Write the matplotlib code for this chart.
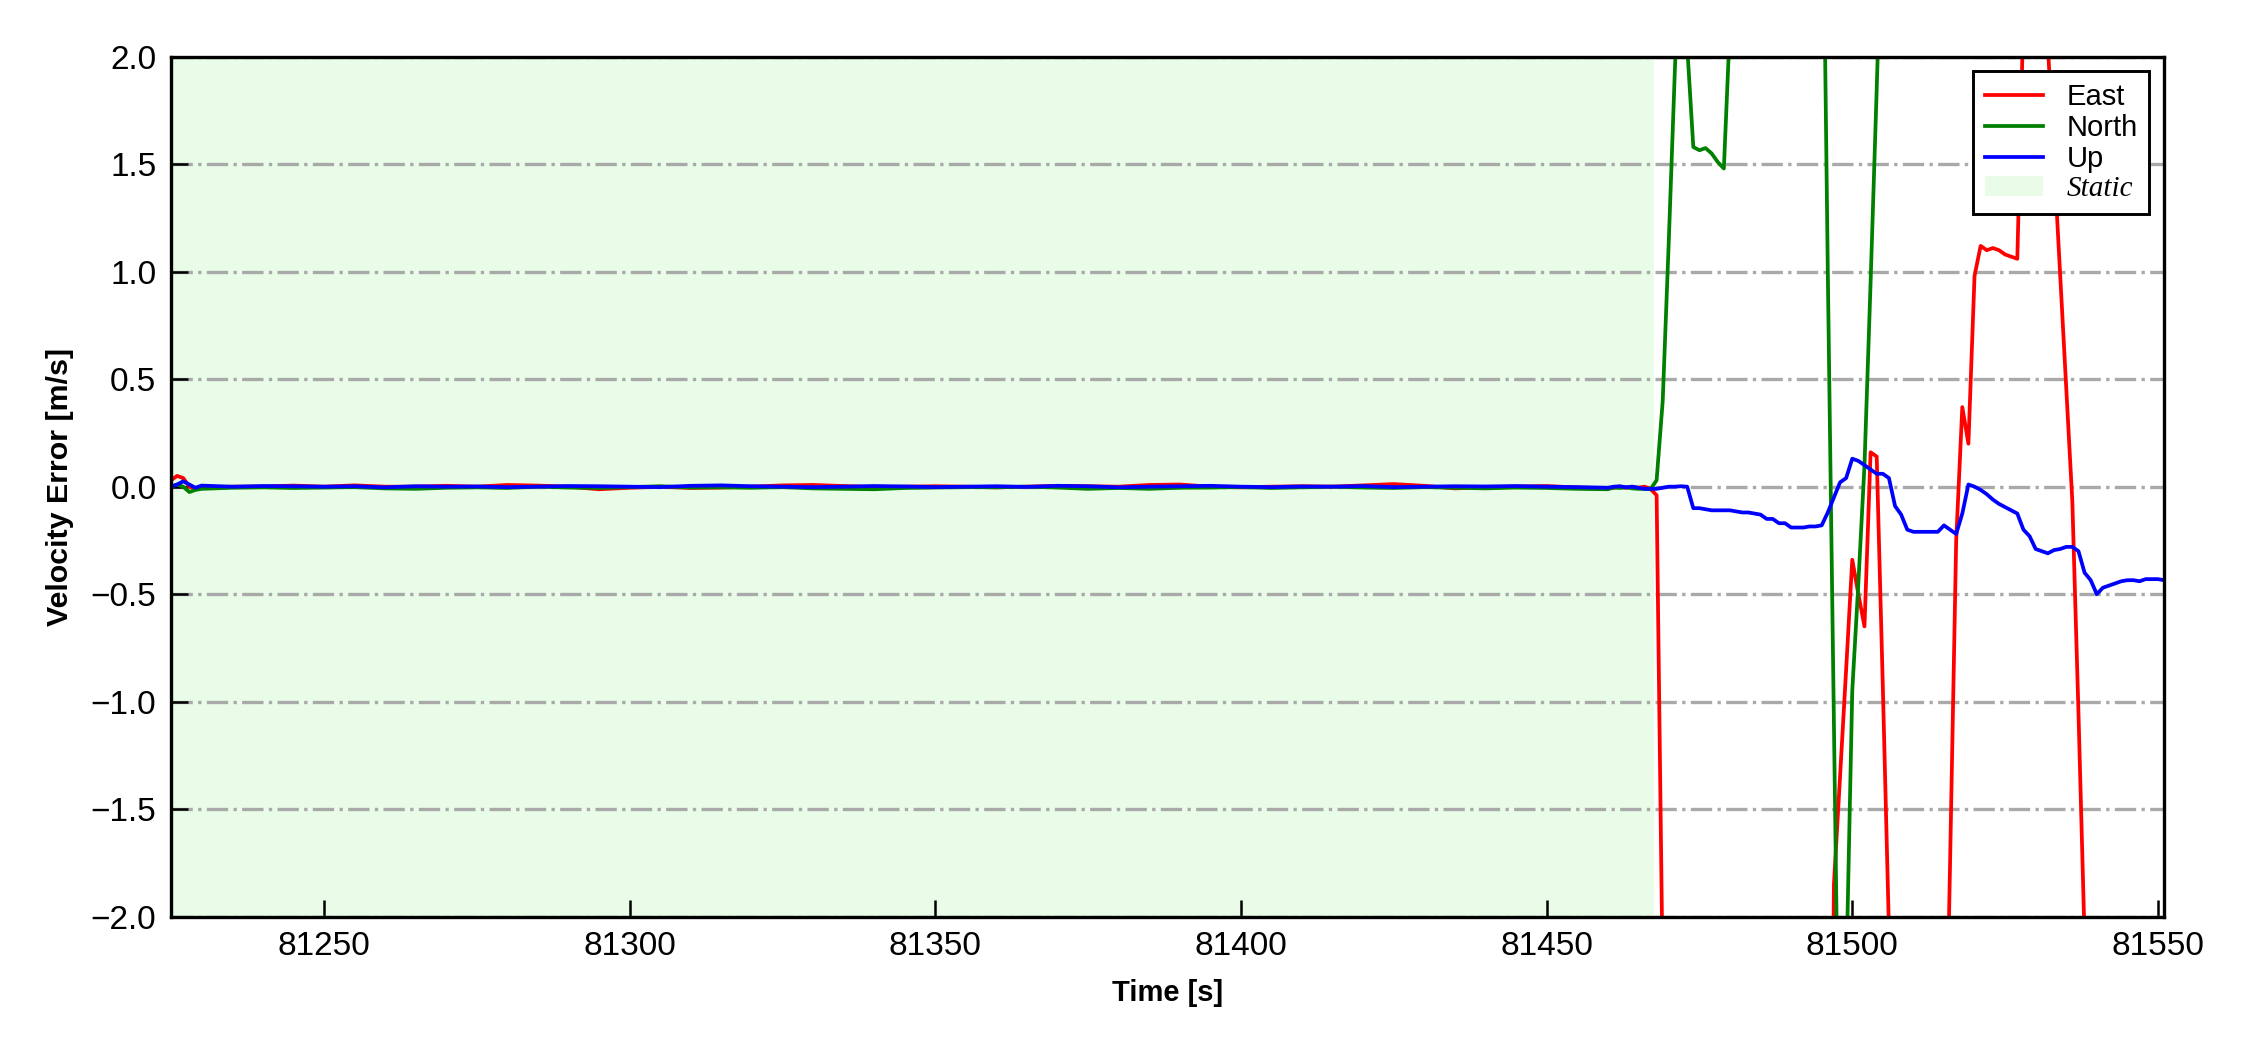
import matplotlib
matplotlib.use('Agg')
import matplotlib.pyplot as plt
import numpy as np

# time axis: a few seconds at the start, 5 s steps through the static part,
# then 1 Hz once the vehicle starts moving
t_start = [81225, 81226, 81227, 81228, 81229, 81230]
t_static = list(range(81235, 81461, 5))
t_dyn = list(range(81461, 81552))

# East error [m/s]
east_start = [0.03, 0.05, 0.04, 0.0, -0.01, -0.005]
east_static = [0.0, 0.0, 0.005, 0.0, 0.006, 0.0, 0.0, 0.004, 0.0, 0.008,
               0.005, 0.0, -0.012, -0.005, 0.0, -0.006, -0.004, 0.0, 0.006, 0.008,
               0.003, -0.002, 0.0, 0.002, 0.0, -0.003, 0.0, 0.004, 0.002, 0.0,
               0.008, 0.01, 0.0, -0.003, 0.0, 0.002, 0.0, 0.006, 0.012, 0.004,
               -0.008, -0.002, 0.0, 0.003, -0.004, -0.008]
east_dyn = [-0.005, 0.0, -0.005, 0.0, -0.005, 0.0, -0.01, -0.04, -2.3, -3.5,
            -4.0, -4.5, -5.0, -5.2, -5.5, -5.8, -6.0, -6.0, -6.2, -6.0,
            -5.8, -5.5, -5.6, -5.4, -5.2, -5.5, -5.6, -5.4, -5.3, -5.1,
            -5.0, -5.2, -5.4, -5.3, -5.1, -5.0, -1.85, -1.35, -0.85, -0.34,
            -0.50, -0.65, 0.16, 0.14, -0.93, -2.05, -3.2, -4.0, -4.5, -4.8,
            -4.6, -4.3, -4.0, -3.8, -3.2, -1.75, -0.25, 0.37, 0.20, 0.98,
            1.12, 1.10, 1.11, 1.10, 1.08, 1.07, 1.06, 2.2, 2.9, 3.2,
            2.7, 2.05, 1.52, 0.99, 0.46, -0.07, -1.05, -2.1, -3.2, -4.0,
            -4.6, -5.0, -5.3, -5.5, -5.6, -5.8, -5.9, -6.0, -6.1, -6.2, -6.2]

# North error [m/s]
north_start = [0.0, 0.01, 0.0, -0.025, -0.015, -0.01]
north_static = [-0.005, -0.003, -0.006, -0.004, -0.002, -0.008, -0.01, -0.005, -0.003, -0.006,
                0.0, -0.004, -0.006, -0.002, 0.002, -0.004, -0.003, -0.005, -0.002, -0.008,
                -0.01, -0.012, -0.006, -0.004, -0.002, -0.003, 0.0, -0.004, -0.01, -0.006,
                -0.01, -0.005, -0.004, -0.002, -0.006, -0.003, 0.0, -0.004, -0.006, -0.002,
                -0.005, -0.008, -0.004, -0.006, -0.01, -0.012]
north_dyn = [-0.004, -0.006, -0.003, -0.008, -0.01, -0.01, -0.012, 0.03, 0.40, 1.15,
             1.95, 2.6, 2.05, 1.58, 1.565, 1.575, 1.55, 1.51, 1.48, 2.15,
             3.0, 3.8, 4.3, 4.6, 4.8, 5.0, 5.1, 5.0, 4.9, 4.8,
             4.6, 4.4, 4.1, 3.8, 3.3, 1.0, -1.1, -3.2, -2.3, -0.95,
             -0.45, 0.1, 0.95, 1.85, 2.8, 3.6, 4.2, 4.6, 5.0, 5.3,
             5.5, 5.6, 5.8, 5.9, 6.0, 6.0, 6.1, 6.2, 6.2, 6.3,
             6.3, 6.4, 6.4, 6.5, 6.5, 6.6, 6.6, 6.7, 6.7, 6.8,
             6.8, 6.9, 6.9, 7.0, 7.0, 7.1, 7.1, 7.2, 7.2, 7.3,
             7.3, 7.4, 7.4, 7.5, 7.5, 7.6, 7.6, 7.7, 7.7, 7.8, 7.8]

# Up error [m/s]
up_start = [0.0, 0.01, 0.025, 0.01, -0.005, 0.005]
up_static = [0.0, 0.003, 0.002, 0.0, 0.002, -0.003, 0.002, 0.0, 0.001, -0.002,
             0.0, 0.003, 0.002, 0.0, -0.002, 0.004, 0.006, 0.002, 0.0, -0.002,
             0.0, 0.003, 0.001, -0.002, 0.0, 0.002, -0.001, 0.004, 0.002, -0.003,
             0.0, 0.002, 0.004, 0.0, -0.002, 0.001, 0.0, 0.003, -0.002, 0.0,
             0.002, 0.001, 0.003, 0.0, -0.002, -0.005]
up_dyn = [0.0, 0.002, -0.003, 0.0, -0.005, -0.01, -0.01, -0.01, -0.005, 0.0,
          0.0, 0.002, 0.0, -0.10, -0.10, -0.105, -0.11, -0.11, -0.11, -0.11,
          -0.115, -0.12, -0.12, -0.125, -0.13, -0.15, -0.15, -0.17, -0.17, -0.19,
          -0.19, -0.19, -0.185, -0.185, -0.18, -0.12, -0.05, 0.02, 0.04, 0.13,
          0.12, 0.10, 0.08, 0.06, 0.06, 0.04, -0.09, -0.13, -0.20, -0.21,
          -0.21, -0.21, -0.21, -0.21, -0.18, -0.20, -0.22, -0.125, 0.01, 0.0,
          -0.015, -0.035, -0.06, -0.08, -0.095, -0.11, -0.125, -0.20, -0.23, -0.29,
          -0.30, -0.31, -0.295, -0.29, -0.28, -0.28, -0.30, -0.40, -0.435, -0.50,
          -0.47, -0.46, -0.45, -0.44, -0.435, -0.435, -0.44, -0.43, -0.43, -0.43, -0.435]

static_end = 81467.6

t = np.array(t_start + t_static + t_dyn)
east = np.array(east_start + east_static + east_dyn)
north = np.array(north_start + north_static + north_dyn)
up = np.array(up_start + up_static + up_dyn)

plt.rcParams['font.family'] = ['Liberation Sans', 'DejaVu Sans']

fig = plt.figure(figsize=(7.5, 3.5), dpi=300)
ax = fig.add_axes([0.076, 0.127, 0.8858, 0.819])

ax.axvspan(t[0], static_end, color='#e8fce8', lw=0, label='Static', zorder=0)
ax.plot(t, east, color='red', lw=0.9, label='East')
ax.plot(t, north, color='green', lw=0.9, label='North')
ax.plot(t, up, color='blue', lw=0.9, label='Up')

ax.set_xlim(81225, 81551)
ax.set_ylim(-2, 2)
ax.set_yticks(np.arange(-2, 2.01, 0.5))
ax.grid(axis='y', ls='-.', color='darkgray', lw=0.8)
ax.set_axisbelow(True)

ax.tick_params(direction='in', length=4, width=0.6, labelsize=8)
for s in ax.spines.values():
    s.set_linewidth(0.8)

ax.set_xlabel('Time [s]', fontsize=7, fontweight='bold')
ax.set_ylabel('Velocity Error [m/s]', fontsize=7.3, fontweight='bold')

h, l = ax.get_legend_handles_labels()
order = [1, 2, 3, 0]
leg = ax.legend([h[i] for i in order], [l[i] for i in order], loc='upper right',
                fontsize=7, fancybox=False, framealpha=1, edgecolor='black',
                borderpad=0.4, labelspacing=0.1, handlelength=2.0)
leg.get_frame().set_linewidth(0.7)
leg.get_texts()[3].set_fontfamily('Liberation Serif')
leg.get_texts()[3].set_fontstyle('italic')

fig.savefig('out.png', dpi=300)
